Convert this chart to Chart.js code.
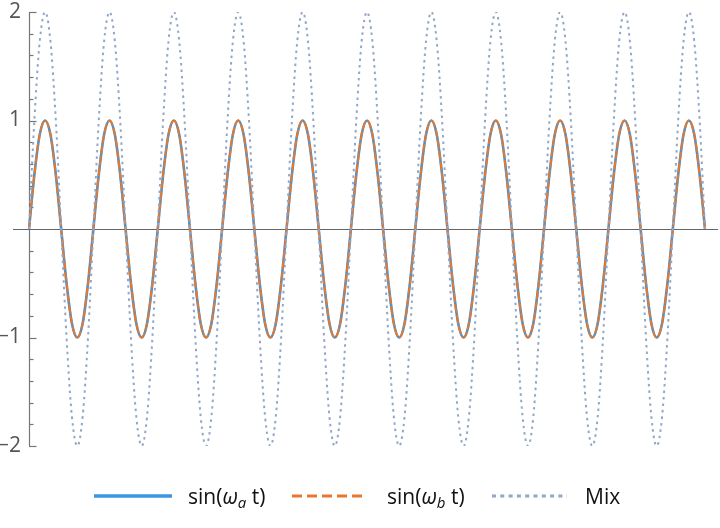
<!DOCTYPE html>
<html>
<head>
<meta charset="utf-8">
<script src="https://cdn.jsdelivr.net/npm/chart.js@4/dist/chart.umd.min.js"></script>
<style>
  html, body { margin: 0; padding: 0; background: #ffffff; }
  #wrap { position: relative; width: 720px; height: 528px; }
  #chart { position: absolute; left: 0; top: 0; }
  .leg { position: absolute; top: 482px; height: 28px; font-family: "Open Sans", "DejaVu Sans", sans-serif; font-size: 21px; color: #111; line-height: 28px; white-space: nowrap; }
  .leg svg { position: absolute; top: 0; }
  .leg sub { font-size: 15px; vertical-align: -4px; line-height: 0; }
</style>
</head>
<body>
<div id="wrap">
  <canvas id="chart" width="720" height="528"></canvas>
  <div id="legend"></div>
</div>
<script>
// Series: 12 samples per cycle, 10.5 cycles
const sinA = [
  0, 0.5, 0.87, 1, 0.87, 0.5, 0, -0.5, -0.87, -1, -0.87, -0.5,
  0, 0.5, 0.87, 1, 0.87, 0.5, 0, -0.5, -0.87, -1, -0.87, -0.5,
  0, 0.5, 0.87, 1, 0.87, 0.5, 0, -0.5, -0.87, -1, -0.87, -0.5,
  0, 0.5, 0.87, 1, 0.87, 0.5, 0, -0.5, -0.87, -1, -0.87, -0.5,
  0, 0.5, 0.87, 1, 0.87, 0.5, 0, -0.5, -0.87, -1, -0.87, -0.5,
  0, 0.5, 0.87, 1, 0.87, 0.5, 0, -0.5, -0.87, -1, -0.87, -0.5,
  0, 0.5, 0.87, 1, 0.87, 0.5, 0, -0.5, -0.87, -1, -0.87, -0.5,
  0, 0.5, 0.87, 1, 0.87, 0.5, 0, -0.5, -0.87, -1, -0.87, -0.5,
  0, 0.5, 0.87, 1, 0.87, 0.5, 0, -0.5, -0.87, -1, -0.87, -0.5,
  0, 0.5, 0.87, 1, 0.87, 0.5, 0, -0.5, -0.87, -1, -0.87, -0.5,
  0, 0.5, 0.87, 1, 0.87, 0.5, 0
];
const sinB = [
  0, 0.5, 0.87, 1, 0.87, 0.5, 0, -0.5, -0.87, -1, -0.87, -0.5,
  0, 0.5, 0.87, 1, 0.87, 0.5, 0, -0.5, -0.87, -1, -0.87, -0.5,
  0, 0.5, 0.87, 1, 0.87, 0.5, 0, -0.5, -0.87, -1, -0.87, -0.5,
  0, 0.5, 0.87, 1, 0.87, 0.5, 0, -0.5, -0.87, -1, -0.87, -0.5,
  0, 0.5, 0.87, 1, 0.87, 0.5, 0, -0.5, -0.87, -1, -0.87, -0.5,
  0, 0.5, 0.87, 1, 0.87, 0.5, 0, -0.5, -0.87, -1, -0.87, -0.5,
  0, 0.5, 0.87, 1, 0.87, 0.5, 0, -0.5, -0.87, -1, -0.87, -0.5,
  0, 0.5, 0.87, 1, 0.87, 0.5, 0, -0.5, -0.87, -1, -0.87, -0.5,
  0, 0.5, 0.87, 1, 0.87, 0.5, 0, -0.5, -0.87, -1, -0.87, -0.5,
  0, 0.5, 0.87, 1, 0.87, 0.5, 0, -0.5, -0.87, -1, -0.87, -0.5,
  0, 0.5, 0.87, 1, 0.87, 0.5, 0
];
const mix = [
  0, 1, 1.73, 2, 1.73, 1, 0, -1, -1.73, -2, -1.73, -1,
  0, 1, 1.73, 2, 1.73, 1, 0, -1, -1.73, -2, -1.73, -1,
  0, 1, 1.73, 2, 1.73, 1, 0, -1, -1.73, -2, -1.73, -1,
  0, 1, 1.73, 2, 1.73, 1, 0, -1, -1.73, -2, -1.73, -1,
  0, 1, 1.73, 2, 1.73, 1, 0, -1, -1.73, -2, -1.73, -1,
  0, 1, 1.73, 2, 1.73, 1, 0, -1, -1.73, -2, -1.73, -1,
  0, 1, 1.73, 2, 1.73, 1, 0, -1, -1.73, -2, -1.73, -1,
  0, 1, 1.73, 2, 1.73, 1, 0, -1, -1.73, -2, -1.73, -1,
  0, 1, 1.73, 2, 1.73, 1, 0, -1, -1.73, -2, -1.73, -1,
  0, 1, 1.73, 2, 1.73, 1, 0, -1, -1.73, -2, -1.73, -1,
  0, 1, 1.73, 2, 1.73, 1, 0
];
const yTicks = [-2, -1, 1, 2];
const seriesNames = ['sin(ωa t)', 'sin(ωb t)', 'Mix'];
const labels = sinA.map((_, i) => i);

const COL_A = '#3a96e0';
const COL_B = '#e6782c';
const COL_MIX = '#93a6c6';
const FONT = '"Open Sans", "DejaVu Sans", sans-serif';

const axesPlugin = {
  id: 'mmaAxes',
  beforeDatasetsDraw(chart) {
    const {ctx, chartArea, scales} = chart;
    const y = scales.y;
    const x0 = chartArea.left;
    ctx.save();
    // horizontal axis at y = 0
    const yz = y.getPixelForValue(0);
    ctx.strokeStyle = '#666';
    ctx.lineWidth = 1;
    ctx.beginPath();
    ctx.moveTo(chartArea.left - 16, Math.round(yz) + 0.5);
    ctx.lineTo(chartArea.right + 13, Math.round(yz) + 0.5);
    ctx.stroke();
    // vertical axis
    ctx.strokeStyle = '#777';
    ctx.lineWidth = 1.2;
    ctx.beginPath();
    ctx.moveTo(x0 + 0.5, y.getPixelForValue(2));
    ctx.lineTo(x0 + 0.5, y.getPixelForValue(-2));
    ctx.stroke();
    // ticks (inward), major at integers, minor every 0.2
    for (let k = -20; k <= 20; k += 2) {
      if (k === 0) continue;
      const major = (k % 10 === 0);
      const py = Math.round(y.getPixelForValue(k / 10)) + 0.5;
      ctx.beginPath();
      ctx.moveTo(x0, py);
      ctx.lineTo(x0 + (major ? 7.5 : 4.5), py);
      ctx.stroke();
    }
    ctx.restore();
  }
};

const chart = new Chart(document.getElementById('chart'), {
  type: 'line',
  data: {
    labels: labels,
    datasets: [
      { label: seriesNames[0], data: sinA, borderColor: COL_A, borderWidth: 2.6, pointRadius: 0, cubicInterpolationMode: 'monotone', order: 3 },
      { label: seriesNames[1], data: sinB, borderColor: COL_B, borderWidth: 2, borderDash: [9, 2], pointRadius: 0, cubicInterpolationMode: 'monotone', order: 2 },
      { label: seriesNames[2], data: mix, borderColor: COL_MIX, borderWidth: 2, borderDash: [2.5, 4], pointRadius: 0, cubicInterpolationMode: 'monotone', order: 1 }
    ]
  },
  options: {
    responsive: false,
    animation: false,
    events: [],
    layout: { padding: { left: 0, right: 15, top: 0, bottom: 82 } },
    plugins: { legend: { display: false }, tooltip: { enabled: false } },
    scales: {
      x: { type: 'category', display: false, offset: false },
      y: {
        min: -2, max: 2,
        afterFit(scale) { scale.width = 29; scale.paddingTop = 12; scale.paddingBottom = 0; },
        afterBuildTicks(scale) { scale.ticks = yTicks.map(v => ({ value: v })); },
        border: { display: false },
        grid: { display: false, drawTicks: false },
        ticks: {
          padding: 8,
          color: '#555',
          font: { family: FONT, size: 21 },
          callback: (v) => (v < 0 ? '\u2212' + Math.abs(v) : String(v))
        }
      }
    }
  },
  plugins: [axesPlugin]
});

// HTML legend with italic subscripts, built from the chart's datasets
const legendDiv = document.getElementById('legend');
const legendLayout = [
  { lineX: 94, lineW: 78, textX: 188, dash: '', width: 3.5, html: 'sin(<i>ω</i><sub><i>a</i></sub> t)' },
  { lineX: 292, lineW: 75, textX: 387, dash: '10,5', width: 3, html: 'sin(<i>ω</i><sub><i>b</i></sub> t)' },
  { lineX: 492, lineW: 75, textX: 585, dash: '4,4.3', width: 3, html: 'Mix' }
];
chart.data.datasets.forEach((ds, i) => {
  const L = legendLayout[i];
  const line = document.createElement('div');
  line.className = 'leg';
  line.style.left = L.lineX + 'px';
  line.style.width = L.lineW + 'px';
  line.innerHTML = '<svg width="' + L.lineW + '" height="28"><line x1="0" y1="14" x2="' + L.lineW + '" y2="14" stroke="' + ds.borderColor + '" stroke-width="' + L.width + '"' + (L.dash ? ' stroke-dasharray="' + L.dash + '"' : '') + '/></svg>';
  legendDiv.appendChild(line);
  const txt = document.createElement('div');
  txt.className = 'leg';
  txt.style.left = L.textX + 'px';
  txt.innerHTML = L.html;
  legendDiv.appendChild(txt);
});
</script>
</body>
</html>
